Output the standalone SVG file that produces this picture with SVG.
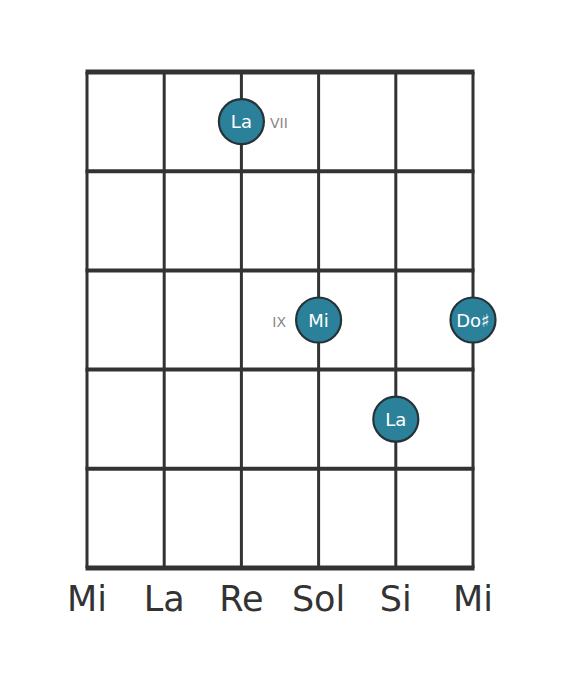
<svg xmlns="http://www.w3.org/2000/svg" width="568" height="682" viewBox="0 0 568 682">
<style>
.str{stroke:#333;stroke-width:3;fill:none}
.fret{stroke:#333;stroke-width:4;fill:none}
.nut{stroke:#333;stroke-width:5;fill:none}
.dot circle{fill:#2a8199;stroke:#263238;stroke-width:2.2}
.dot text{fill:#fff;font-family:"DejaVu Sans",sans-serif;font-size:18px;text-anchor:middle;dominant-baseline:central}
.pos{fill:#888;font-family:"DejaVu Sans",sans-serif;font-size:14px}
.sname{fill:#333;font-family:"DejaVu Sans",sans-serif;font-size:35px;text-anchor:middle}
</style>
<rect width="568" height="682" fill="#fff"/>
<g id="grid">
<line class="str" x1="87" y1="72" x2="87" y2="568"/>
<line class="str" x1="164.2" y1="72" x2="164.2" y2="568"/>
<line class="str" x1="241.4" y1="72" x2="241.4" y2="568"/>
<line class="str" x1="318.6" y1="72" x2="318.6" y2="568"/>
<line class="str" x1="395.8" y1="72" x2="395.8" y2="568"/>
<line class="str" x1="473" y1="72" x2="473" y2="568"/>
<line class="nut" x1="85.5" y1="72" x2="474.5" y2="72"/>
<line class="fret" x1="85.5" y1="171.2" x2="474.5" y2="171.2"/>
<line class="fret" x1="85.5" y1="270.4" x2="474.5" y2="270.4"/>
<line class="fret" x1="85.5" y1="369.6" x2="474.5" y2="369.6"/>
<line class="fret" x1="85.5" y1="468.8" x2="474.5" y2="468.8"/>
<line class="nut" x1="85.5" y1="568" x2="474.5" y2="568"/>
</g>
<g id="note-la1" class="dot"><circle cx="241.4" cy="121.6" r="22.5"/><text x="241.4" y="121.6">La</text></g>
<g id="note-mi" class="dot"><circle cx="318.6" cy="320" r="22.5"/><text x="318.6" y="320">Mi</text></g>
<g id="note-dos" class="dot"><circle cx="473" cy="320" r="22.5"/><text x="473" y="320">Do♯</text></g>
<g id="note-la2" class="dot"><circle cx="395.8" cy="419.2" r="22.5"/><text x="395.8" y="419.2">La</text></g>
<g id="fret-labels">
<text class="pos" x="270" y="128">VII</text>
<text class="pos" x="286" y="327" text-anchor="end">IX</text>
</g>
<g id="string-names">
<text class="sname" x="87" y="611">Mi</text>
<text class="sname" x="164.2" y="611">La</text>
<text class="sname" x="241.4" y="611">Re</text>
<text class="sname" x="318.6" y="611">Sol</text>
<text class="sname" x="395.8" y="611">Si</text>
<text class="sname" x="473" y="611">Mi</text>
</g>
</svg>
